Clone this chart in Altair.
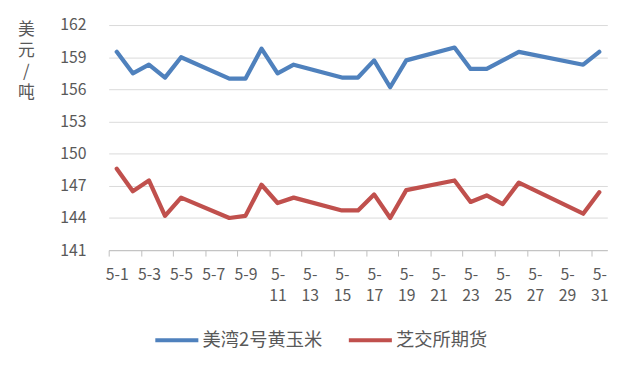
import altair as alt
import pandas as pd

# trading days in May that carry data
days = [1, 2, 3, 4, 5, 8, 9, 10, 11, 12, 15, 16, 17, 18, 19, 22, 23, 24, 25, 26, 30, 31]
gulf_corn = [159.5, 157.5, 158.3, 157.1, 159.0, 157.0, 157.0, 159.8, 157.5, 158.3,
             157.1, 157.1, 158.7, 156.2, 158.7, 159.9, 157.9, 157.9, 158.7, 159.5,
             158.3, 159.5]
cbot_fut = [148.6, 146.5, 147.5, 144.2, 145.9, 144.0, 144.2, 147.1, 145.4, 145.9,
            144.7, 144.7, 146.2, 144.0, 146.6, 147.5, 145.5, 146.1, 145.3, 147.3,
            144.4, 146.4]
series_names = ["美湾2号黄玉米", "芝交所期货"]
colors = ["#4F81BD", "#C0504D"]
y_ticks = [141, 144, 147, 150, 153, 156, 159, 162]
label_days = list(range(1, 32, 2))
month_prefix = "5-"
y_title = ["美", "元", "/", "吨"]

n = len(days)
df = pd.DataFrame({
    "day": days + days,
    "value": gulf_corn + cbot_fut,
    "series": [series_names[0]] * n + [series_names[1]] * n,
})

boundaries = [d - 0.5 for d in label_days]
x_values = sorted(boundaries + label_days)

FONT = "Noto Sans CJK SC"
GREY = "#595959"

label_expr = (
    "datum.value % 1 != 0 ? '' : (datum.value < 10 ? '" + month_prefix + "' + datum.value : ['"
    + month_prefix + "', '' + datum.value])"
)

chart = alt.Chart(df).mark_line(strokeWidth=4.3, strokeCap="round", strokeJoin="round").encode(
    x=alt.X(
        "day:Q",
        scale=alt.Scale(domain=[0.5, 31.5], nice=False, zero=False),
        axis=alt.Axis(
            values=x_values,
            labelExpr=label_expr,
            title=None,
            grid=False,
            domainColor="#BFBFBF",
            tickColor="#BFBFBF",
            tickSize=6,
            tickOpacity={"condition": {"test": "datum.value % 1 != 0", "value": 1}, "value": 0},
            labelOverlap=False,
            labelFlush=False,
            labelPadding=11,
            labelLineHeight=21,
            labelFontSize=16,
            labelFont=FONT,
            labelColor=GREY,
        ),
    ),
    y=alt.Y(
        "value:Q",
        scale=alt.Scale(domain=[141, 162], nice=False, zero=False),
        axis=alt.Axis(
            values=y_ticks,
            title=y_title,
            titleAngle=0,
            titleX=-84,
            titleY=-3,
            titleAlign="center",
            titleBaseline="top",
            titleFontSize=17,
            titleFont=FONT,
            titleFontWeight="normal",
            titleColor=GREY,
            titleLineHeight=21,
            domain=False,
            ticks=False,
            labelPadding=23,
            labelFontSize=16,
            labelFont=FONT,
            labelColor=GREY,
            gridColor="#D9D9D9",
        ),
    ),
    color=alt.Color(
        "series:N",
        scale=alt.Scale(domain=series_names, range=colors),
        legend=alt.Legend(
            title=None,
            orient="none",
            legendX=45,
            legendY=295,
            direction="horizontal",
            symbolType="stroke",
            symbolSize=1900,
            symbolStrokeWidth=4.3,
            labelFontSize=18.5,
            labelFont=FONT,
            labelColor=GREY,
            columnPadding=17,
            labelOffset=2,
            padding=0,
        ),
    ),
).properties(
    width=505,
    height=228,
    padding={"left": 102, "top": 15, "right": 24, "bottom": 110},
    autosize="none",
).configure_view(stroke=None)

chart.save("out.html", embed_options={"renderer": "svg", "actions": False})
